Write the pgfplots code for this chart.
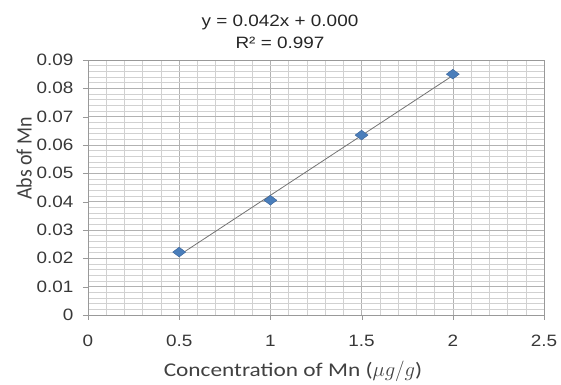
\documentclass[border=0pt]{standalone}
\usepackage{fontspec}
\setmainfont{Liberation Sans}[FakeStretch=1.15]
\newfontfamily\calfont{Carlito}[FakeStretch=1.2]
\newfontfamily\calfontplain{Carlito}
\usepackage{pgfplots}
\pgfplotsset{compat=1.18}
\definecolor{mk}{HTML}{4A7EBB}
\definecolor{mkd}{HTML}{3A6499}
\begin{document}
\begin{tikzpicture}
\begin{axis}[name=ax,
  scale only axis, width=456bp, height=255bp,
  xmin=0, xmax=2.5, ymin=0, ymax=0.09,
  xtick={0,0.5,...,2.5}, ytick={0,0.01,...,0.09},
  minor x tick num=4, minor y tick num=4,
  grid=both,
  major grid style={draw=black!30, line width=0.6pt},
  minor grid style={draw=black!18, line width=0.5pt},
  axis line style={draw=black!40},
  tick style={draw=black!40},
  minor tick length=0pt,
  major tick length=5bp,
  tick align=outside,
  xtick pos=bottom, ytick pos=left,
  /pgf/number format/assume math mode=true,
  scaled y ticks=false,
  yticklabel style={/pgf/number format/fixed, /pgf/number format/precision=2, font=\fontsize{16.5}{18}\selectfont, text=black!78, xshift=-6bp},
  xticklabel style={/pgf/number format/fixed, font=\fontsize{16.5}{18}\selectfont, text=black!78, yshift=-12bp},
  xlabel={\calfont Concentration of Mn ($\mu g/g$)},
  xlabel style={font=\fontsize{19.5}{21}\selectfont, text=black!75, at={(rel axis cs:0.5,0)}, anchor=center, xshift=-23bp, yshift=-56bp},
  ylabel={\calfontplain Abs of Mn},
  ylabel style={font=\fontsize{20}{22}\selectfont, text=black!75, at={(rel axis cs:0,0.5)}, anchor=center, xshift=29bp, yshift=64bp, yscale=1.1},
  title={y = 0.042x + 0.000\\[3bp]R² = 0.997},
  title style={align=center, font=\fontsize{16.5}{19}\selectfont, text=black!85, at={(rel axis cs:0.5,1)}, anchor=south, xshift=-36bp, yshift=2bp},
]
\addplot[draw=black!55, line width=0.8pt, forget plot] coordinates {(0.5,0.0211) (2,0.0845)};
\addplot[only marks, mark=diamond*, mark size=6.5bp, mark options={rotate=90, fill=mk, draw=mkd, line width=0.4pt}] coordinates {
(0.5,0.0222) (1,0.0405) (1.5,0.0635) (2,0.0850)};
\end{axis}
\path ([xshift=-88bp,yshift=-66bp]ax.south west) rectangle ([xshift=17bp,yshift=60bp]ax.north east);
\end{tikzpicture}
\end{document}
